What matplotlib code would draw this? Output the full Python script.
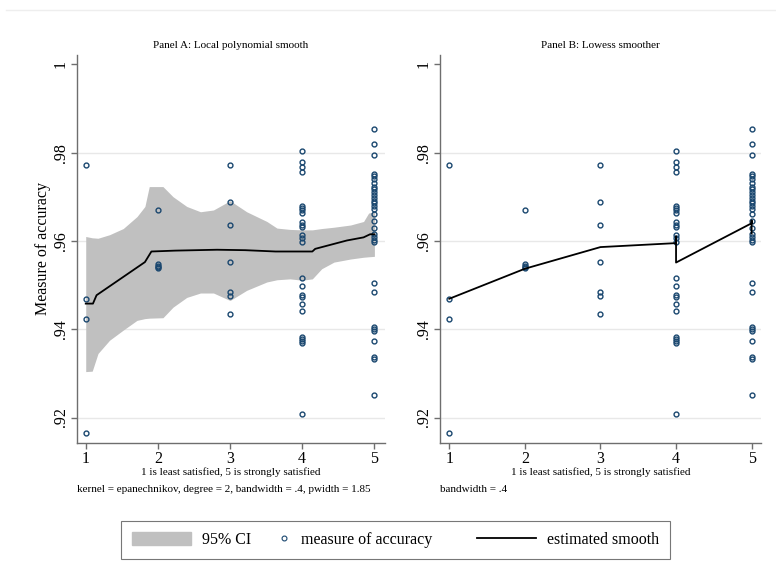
import numpy as np
import matplotlib.pyplot as plt
from matplotlib.lines import Line2D
from matplotlib.patches import Patch
from matplotlib.legend_handler import HandlerLine2D

plt.rcParams['font.family'] = ['Liberation Serif', 'DejaVu Serif']

# observed accuracy by satisfaction level
acc_1 = [0.9772, 0.9469, 0.9423, 0.9165]
acc_2 = [0.9670, 0.9547, 0.9544, 0.9541, 0.9538]
acc_3 = [0.9772, 0.9689, 0.9637, 0.9552, 0.9484, 0.9476, 0.9435]
acc_4 = [0.9804, 0.9779, 0.9768, 0.9757, 0.9680, 0.9674, 0.9669, 0.9664,
         0.9642, 0.9637, 0.9632, 0.9614, 0.9606, 0.9598, 0.9517, 0.9499,
         0.9478, 0.9473, 0.9456, 0.9441, 0.9383, 0.9378, 0.9374, 0.9369, 0.9207]
acc_5 = [0.9853, 0.9820, 0.9795, 0.9751, 0.9746, 0.9740, 0.9731, 0.9723,
         0.9717, 0.9711, 0.9704, 0.9698, 0.9691, 0.9685, 0.9679, 0.9673,
         0.9661, 0.9646, 0.9629, 0.9615, 0.9608, 0.9602, 0.9597, 0.9505,
         0.9485, 0.9405, 0.9400, 0.9397, 0.9373, 0.9336, 0.9332, 0.9250]
groups = [acc_1, acc_2, acc_3, acc_4, acc_5]

# panel A: local polynomial fit and 95% CI
lp_x = [1.0, 1.10, 1.15, 1.82, 1.91, 2.24, 2.82, 3.21, 3.63, 4.14, 4.18, 4.62, 4.85, 4.94, 5.0]
lp_y = [0.9458, 0.9458, 0.9477, 0.9552, 0.9576, 0.9578, 0.9580, 0.9579, 0.9576,
        0.9576, 0.9582, 0.9601, 0.9608, 0.9615, 0.9615]
ci_x = [1.0, 1.09, 1.17, 1.33, 1.52, 1.71, 1.82, 1.88, 2.07, 2.21, 2.40, 2.59, 2.77,
        3.0, 3.23, 3.51, 3.65, 3.83, 4.0, 4.14, 4.27, 4.44, 4.67, 4.85, 4.92, 5.0]
ci_hi = [0.9610, 0.9607, 0.9606, 0.9614, 0.9628, 0.9655, 0.9678, 0.9723, 0.9723,
         0.9700, 0.9678, 0.9666, 0.9670, 0.9691, 0.9666, 0.9644, 0.9629, 0.9626,
         0.9625, 0.9625, 0.9628, 0.9631, 0.9636, 0.9644, 0.9663, 0.9666]
ci_lo = [0.9304, 0.9305, 0.9345, 0.9375, 0.9398, 0.9420, 0.9424, 0.9425, 0.9426,
         0.9450, 0.9472, 0.9482, 0.9482, 0.9465, 0.9488, 0.9507, 0.9512, 0.9514,
         0.9511, 0.9514, 0.9537, 0.9552, 0.9559, 0.9563, 0.9564, 0.9565]

# panel B: lowess fit (ties give vertical steps)
lw_x = [1, 2, 3, 4, 4, 4, 5, 5, 5]
lw_y = [0.9469, 0.9537, 0.9586, 0.9595, 0.9610, 0.9551, 0.9640, 0.9646, 0.9617]

yticks = [1, 0.98, 0.96, 0.94, 0.92]
ytick_labels = ['1', '.98', '.96', '.94', '.92']
xticks = [1, 2, 3, 4, 5]

navy = '#1a476f'
grid_c = '#e8e8e8'
spine_c = '#6e6e6e'

fig = plt.figure(figsize=(7.76, 5.69), dpi=100)
axA = fig.add_axes([77 / 776, 1 - 442.7 / 569, (385 - 77) / 776, 387.7 / 569])
axB = fig.add_axes([440 / 776, 1 - 442.7 / 569, (760.7 - 440) / 776, 387.7 / 569])


def style(ax, xlim, note):
    ax.set_xlim(*xlim)
    ax.set_ylim(0.9143, 1.0021)
    for y in yticks[1:]:
        ax.axhline(y, color=grid_c, lw=1.0, zorder=0)
    for s in ['top', 'right']:
        ax.spines[s].set_visible(False)
    for s in ['left', 'bottom']:
        ax.spines[s].set_color(spine_c)
        ax.spines[s].set_linewidth(1.0)
    ax.set_xticks(xticks)
    ax.set_xticklabels([str(x) for x in xticks], fontsize=11.5)
    ax.set_yticks(yticks)
    ax.set_yticklabels(ytick_labels, fontsize=11.5, rotation=90, va='center')
    ax.tick_params(colors=spine_c, length=4, width=1.0, labelcolor='black', pad=2)
    ax.set_xlabel('1 is least satisfied, 5 is strongly satisfied', fontsize=8.0, labelpad=0)
    ax.text(0.0, -0.122, note, transform=ax.transAxes, fontsize=8.0, ha='left', va='center')
    for i, g in enumerate(groups):
        ax.plot([xticks[i]] * len(g), g, 'o', ms=3.5, mfc='none', mec=navy, mew=1.0, zorder=3)


style(axA, (0.879, 5.147), 'kernel = epanechnikov, degree = 2, bandwidth = .4, pwidth = 1.85')
axA.fill_between(ci_x, ci_lo, ci_hi, color='#c0c0c0', lw=0, zorder=1)
axA.plot(lp_x, lp_y, color='black', lw=1.3, zorder=4)
axA.set_ylabel('Measure of accuracy', fontsize=11.5, labelpad=1)
axA.set_title('Panel A: Local polynomial smooth', fontsize=8.0, pad=5)

style(axB, (0.877, 5.12), 'bandwidth = .4')
axB.plot(lw_x, lw_y, color='black', lw=1.3, zorder=4)
axB.set_title('Panel B: Lowess smoother', fontsize=8.0, pad=5)

# faint border line at top of graph region
fig.add_artist(Line2D([6 / 776, 1], [1 - 10 / 569] * 2, color='#eeeeee', lw=1))


class RightMarker(HandlerLine2D):
    # put the single legend marker at the right end of its handle box
    def create_artists(self, legend, orig_handle, xdescent, ydescent, width, height, fontsize, trans):
        arts = super().create_artists(legend, orig_handle, xdescent, ydescent,
                                      width, height, fontsize, trans)
        for a in arts:
            a.set_xdata([width - xdescent - 5])
        return arts


pt_handle = Line2D([], [], ls='none', marker='o', ms=3.5, mfc='none', mec=navy, mew=0.8)
handles = [Patch(color='#c0c0c0'), pt_handle, Line2D([], [], color='black', lw=1.3)]
labels = ['95% CI', 'measure of accuracy' + '\u00a0' * 16, 'estimated smooth']
leg = fig.legend(handles, labels, ncol=3, loc='center', bbox_to_anchor=(0.5097, 0.051),
                 fontsize=11.5, frameon=True, fancybox=False, edgecolor='#555555',
                 handlelength=3.7, handleheight=0.8, columnspacing=-1.2, handletextpad=0.65,
                 borderpad=0.7, handler_map={pt_handle: RightMarker(numpoints=1)})
leg.get_frame().set_linewidth(0.8)

fig.savefig('out.png', dpi=100)
